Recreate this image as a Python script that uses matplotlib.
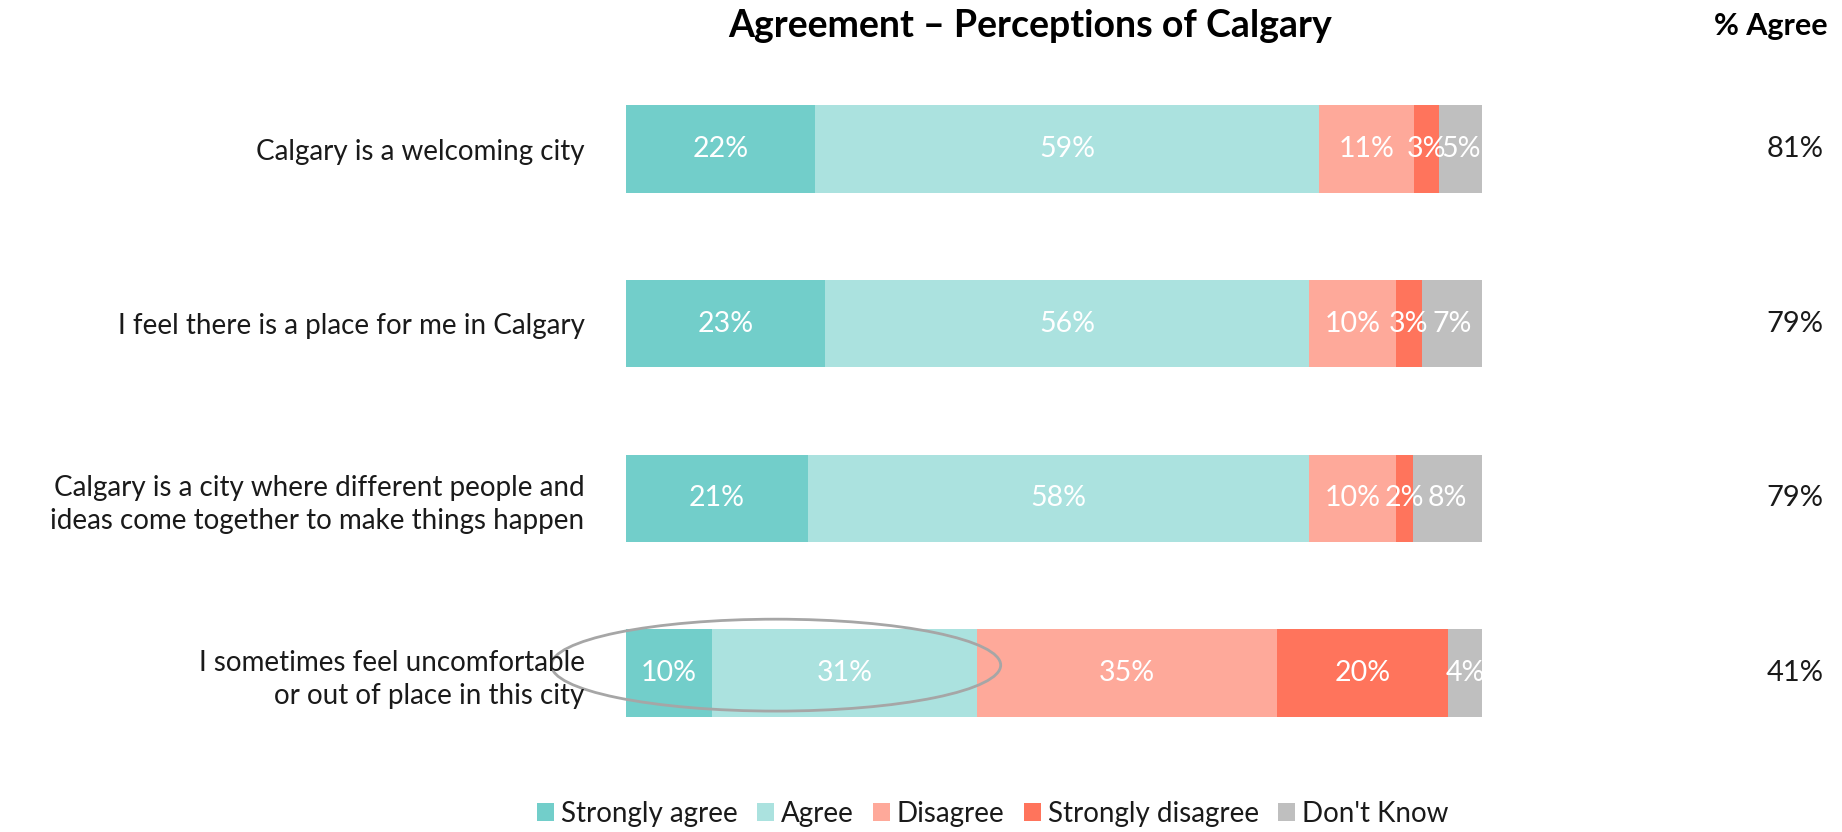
import numpy as np
import matplotlib.pyplot as plt
from matplotlib.patches import Ellipse

plt.rcParams['font.family'] = ['Lato', 'DejaVu Sans']

# data
statements = [
    "Calgary is a welcoming city",
    "I feel there is a place for me in Calgary",
    "Calgary is a city where different people and\nideas come together to make things happen",
    "I sometimes feel uncomfortable\nor out of place in this city",
]
series = ["Strongly agree", "Agree", "Disagree", "Strongly disagree", "Don't Know"]
strongly_agree = [22, 23, 21, 10]
agree = [59, 56, 58, 31]
disagree = [11, 10, 10, 35]
strongly_disagree = [3, 3, 2, 20]
dont_know = [5, 7, 8, 4]
pct_agree = [81, 79, 79, 41]

colors = ['#72CECA', '#ABE2DF', '#FEA99A', '#FF745C', '#BFBFBF']

vals = np.array([strongly_agree, agree, disagree, strongly_disagree, dont_know], dtype=float)
totals = vals.sum(axis=0)
widths = vals / totals * 100  # bars fill the full row

fig = plt.figure(figsize=(18.42, 8.32), dpi=100)
ax = fig.add_axes([0.340, 0.0649, 0.4646, 0.882])

y = np.arange(len(statements))
left = np.zeros(len(statements))
for i, name in enumerate(series):
    ax.barh(y, widths[i], left=left, height=0.5, color=colors[i], label=name)
    for j in range(len(statements)):
        ax.text(left[j] + widths[i][j] / 2, y[j], f"{int(vals[i][j])}%",
                ha='center', va='center', color='white', fontsize=20.5)
    left += widths[i]

ax.set_xlim(0, 100)
ax.set_ylim(3.6, -0.6)
ax.set_yticks(y)
ax.set_yticklabels(statements, fontsize=20, ha='right', linespacing=1.35,
                   color='#1a1a1a')
ax.tick_params(axis='y', length=0, pad=30)
ax.tick_params(axis='x', bottom=False, labelbottom=False)
for s in ax.spines.values():
    s.set_visible(False)

# highlight ring round the agree part of the last row
ring = Ellipse((17.5, 2.954), 52.5, 0.526, fill=False, edgecolor='#A6A6A6',
               linewidth=2, clip_on=False)
ax.add_patch(ring)

fig.text(0.559, 0.969, "Agreement \u2013 Perceptions of Calgary", ha='center', va='center',
         fontsize=27, fontweight='bold')
fig.text(0.992, 0.969, "% Agree", ha='right', va='center', fontsize=22, fontweight='bold')

for j, v in enumerate(pct_agree):
    yy = ax.transData.transform((0, y[j]))[1] / fig.bbox.height
    fig.text(0.990, yy, f"{v}%", ha='right', va='center', fontsize=21, color='#1a1a1a')

fig.legend(loc='center', bbox_to_anchor=(0.539, 0.022), ncol=5, frameon=False,
           fontsize=20, handlelength=0.6, handleheight=0.6, handletextpad=0.25,
           columnspacing=0.7, labelcolor='#1a1a1a')

fig.savefig("out.png", dpi=100)
